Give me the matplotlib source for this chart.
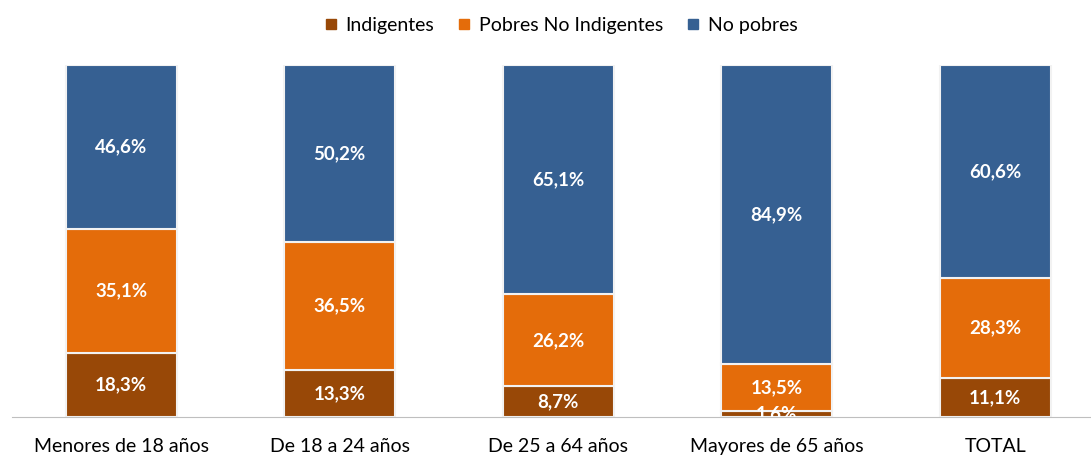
import matplotlib.pyplot as plt
import numpy as np

plt.rcParams['font.family'] = ['Lato', 'DejaVu Sans']

categories = ['Menores de 18 años', 'De 18 a 24 años', 'De 25 a 64 años', 'Mayores de 65 años', 'TOTAL']
indigentes = [18.3, 13.3, 8.7, 1.6, 11.1]
pobres_no_ind = [35.1, 36.5, 26.2, 13.5, 28.3]
no_pobres = [46.6, 50.2, 65.1, 84.9, 60.6]

series = [
    ('Indigentes', indigentes, '#984807'),
    ('Pobres No Indigentes', pobres_no_ind, '#E46C0A'),
    ('No pobres', no_pobres, '#366092'),
]

fig = plt.figure(figsize=(10.91, 4.58), dpi=100)
ax = fig.add_axes([12 / 1091, 41 / 458, 1079 / 1091, 352 / 458])

x = np.arange(len(categories))
bottom = np.zeros(len(categories))
for name, vals, color in series:
    vals = np.array(vals)
    ax.bar(x, vals, width=0.508, bottom=bottom, color=color, edgecolor='#F2F2F2',
           linewidth=1.5, label=name)
    for xi, b, v in zip(x, bottom, vals):
        ax.text(xi, b + v / 2, f'{v:.1f}%'.replace('.', ','), ha='center', va='center',
                color='white', fontsize=13.5, fontweight='bold', clip_on=True)
    bottom += vals

ax.set_xlim(-0.5, -0.5 + 1079 / 218.5)
ax.set_ylim(0, 100)
ax.set_yticks([])
ax.set_xticks(x)
ax.set_xticklabels(categories, fontsize=14)
ax.tick_params(axis='x', length=0, pad=15)
for s in ['top', 'right', 'left']:
    ax.spines[s].set_visible(False)
ax.spines['bottom'].set_color('#BFBFBF')

handles = [plt.Line2D([], [], marker='s', linestyle='', color=c, markersize=7.5) for _, _, c in series]
fig.legend(handles, [n for n, _, _ in series], loc='center', bbox_to_anchor=(561 / 1091, 1 - 25 / 458),
           ncol=3, frameon=False, fontsize=14, handlelength=0.7, handletextpad=0.4, columnspacing=1.2)

fig.savefig('out.png', dpi=100)
